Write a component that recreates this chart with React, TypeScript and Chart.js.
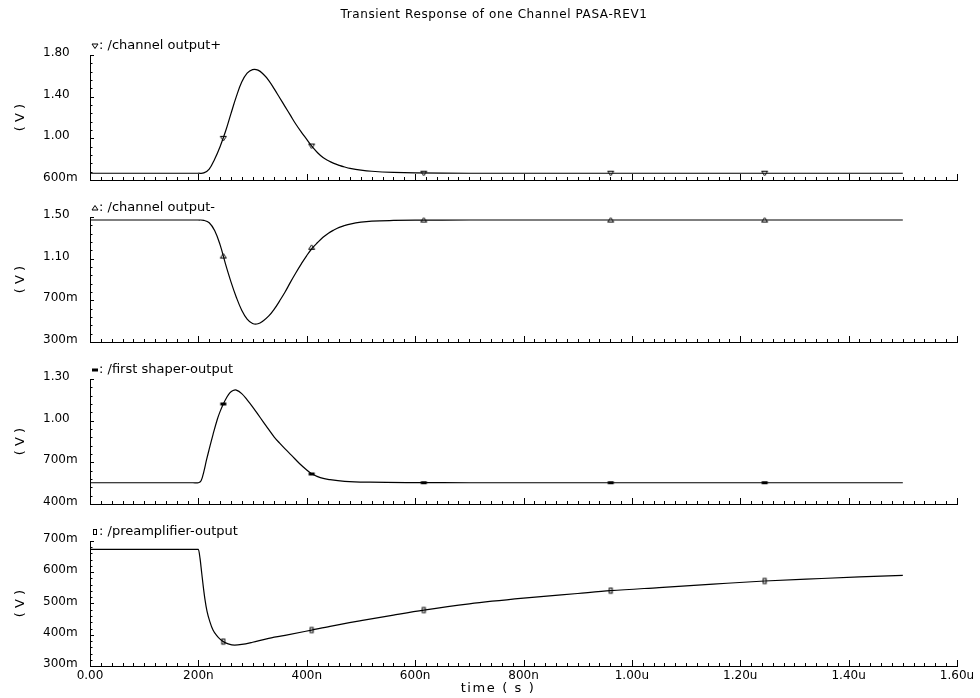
import React, { useEffect, useRef } from "react";
import { Chart, registerables } from "chart.js";

Chart.register(...registerables);

const FONT_FAMILY = "'DejaVu Sans', sans-serif";

const chartTitle = "Transient Response of one Channel PASA-REV1";
const xAxisTitle = "time ( s )";
const yAxisTitle = "( V )";

// x ticks (ns)
const xTicks = [0, 200, 400, 600, 800, 1000, 1200, 1400, 1600];

// marker times (ns)
const markerT = [246, 409, 616, 961, 1245];

// Panel 1: /channel output+
const outPlusT = [0, 100, 190, 200, 210, 220, 230, 240, 250, 260, 270, 280, 290, 300, 310, 320, 330, 340, 350, 360, 370, 380, 390, 400, 410, 420, 430, 440, 450, 460, 470, 480, 500, 520, 560, 600, 700, 1000, 1500];
const outPlusV = [0.665, 0.665, 0.665, 0.665, 0.668, 0.705, 0.8, 0.92, 1.065, 1.235, 1.4, 1.54, 1.625, 1.66, 1.655, 1.615, 1.555, 1.475, 1.39, 1.305, 1.22, 1.135, 1.06, 0.99, 0.92, 0.862, 0.816, 0.785, 0.76, 0.741, 0.725, 0.712, 0.695, 0.684, 0.673, 0.668, 0.665, 0.665, 0.665];
const outPlusM = [1.0, 0.926, 0.665, 0.665, 0.665];
const outPlusYTicks = [0.6, 1.0, 1.4, 1.8];

// Panel 2: /channel output-
const outMinusT = [0, 100, 190, 200, 210, 220, 230, 240, 250, 260, 270, 280, 290, 300, 310, 320, 330, 340, 350, 360, 370, 380, 390, 400, 410, 420, 430, 440, 450, 460, 470, 480, 500, 520, 560, 600, 700, 1000, 1500];
const outMinusV = [1.471, 1.471, 1.471, 1.471, 1.468, 1.445, 1.37, 1.235, 1.05, 0.88, 0.73, 0.605, 0.52, 0.478, 0.475, 0.505, 0.55, 0.615, 0.695, 0.78, 0.875, 0.965, 1.05, 1.13, 1.2, 1.255, 1.305, 1.345, 1.375, 1.4, 1.418, 1.432, 1.45, 1.46, 1.467, 1.47, 1.471, 1.471, 1.471];
const outMinusM = [1.125, 1.209, 1.471, 1.471, 1.471];
const outMinusYTicks = [0.3, 0.7, 1.1, 1.5];

// Panel 3: /first shaper-output
const shaperT = [0, 100, 190, 200, 205, 210, 215, 220, 227, 235, 240, 246, 252, 258, 264, 270, 280, 290, 300, 310, 320, 330, 340, 350, 360, 372, 387, 400, 409, 425, 443, 470, 517, 600, 700, 1000, 1500];
const shaperV = [0.553, 0.553, 0.553, 0.553, 0.567, 0.632, 0.717, 0.795, 0.9, 1.01, 1.065, 1.12, 1.165, 1.2, 1.217, 1.22, 1.195, 1.15, 1.1, 1.045, 0.99, 0.935, 0.882, 0.838, 0.797, 0.75, 0.69, 0.645, 0.618, 0.59, 0.575, 0.563, 0.557, 0.554, 0.553, 0.553, 0.553];
const shaperM = [1.12, 0.616, 0.553, 0.553, 0.553];
const shaperYTicks = [0.4, 0.7, 1.0, 1.3];

// Panel 4: /preamplifier-output
const preampT = [0, 100, 190, 197, 200, 203, 206, 209, 212, 216, 221, 227, 234, 240, 246, 255, 267, 280, 300, 326, 360, 409, 443, 500, 560, 616, 700, 800, 900, 961, 1050, 1150, 1245, 1350, 1420, 1500];
const preampV = [0.673, 0.673, 0.673, 0.673, 0.673, 0.645, 0.6, 0.555, 0.515, 0.475, 0.443, 0.415, 0.397, 0.386, 0.378, 0.371, 0.367, 0.369, 0.376, 0.387, 0.398, 0.415, 0.427, 0.445, 0.463, 0.479, 0.499, 0.517, 0.532, 0.541, 0.551, 0.562, 0.572, 0.58, 0.585, 0.59];
const preampM = [0.378, 0.415, 0.479, 0.541, 0.572];
const preampYTicks = [0.3, 0.4, 0.5, 0.6, 0.7];

type MarkerKind = "down" | "up" | "dash" | "bar";

const panelLabels = ["/channel output+", "/channel output-", "/first shaper-output", "/preamplifier-output"];
const panelKinds: MarkerKind[] = ["down", "up", "dash", "bar"];
const panelT = [outPlusT, outMinusT, shaperT, preampT];
const panelV = [outPlusV, outMinusV, shaperV, preampV];
const panelM = [outPlusM, outMinusM, shaperM, preampM];
const panelYTicks = [outPlusYTicks, outMinusYTicks, shaperYTicks, preampYTicks];

// layout constants
const W = 980;
const PANEL_STEP = 162;
const AREA_TOP = 55;
const AREA_BOTTOM = 180;
const AXIS_LEFT = 90;
const AXIS_RIGHT = 957;

function fmtY(v: number): string {
  if (v >= 0.999) return v.toFixed(2);
  return `${Math.round(v * 1000)}m`;
}
function fmtX(v: number): string {
  if (Math.abs(v) < 1e-9) return "0.00";
  if (v < 999) return `${Math.round(v)}n`;
  return `${(v / 1000).toFixed(2)}u`;
}

function drawSymbol(ctx: CanvasRenderingContext2D, kind: MarkerKind, x: number, y: number) {
  ctx.save();
  ctx.strokeStyle = "#000";
  ctx.fillStyle = "#000";
  ctx.lineWidth = 1;
  ctx.beginPath();
  if (kind === "down") {
    ctx.moveTo(x - 3, y - 2);
    ctx.lineTo(x + 3, y - 2);
    ctx.lineTo(x, y + 2.5);
    ctx.closePath();
    ctx.stroke();
  } else if (kind === "up") {
    ctx.moveTo(x - 3, y + 2);
    ctx.lineTo(x + 3, y + 2);
    ctx.lineTo(x, y - 2.5);
    ctx.closePath();
    ctx.stroke();
  } else if (kind === "dash") {
    ctx.fillRect(x - 3, y - 1.5, 6, 3);
  } else {
    ctx.strokeRect(x - 1.5, y - 2.5, 3, 5);
  }
  ctx.restore();
}

function makeMarkerImage(kind: MarkerKind): HTMLCanvasElement {
  const c = document.createElement("canvas");
  c.width = 9;
  c.height = 9;
  const ctx = c.getContext("2d")!;
  drawSymbol(ctx, kind, 4.5, 4.5);
  return c;
}

function PanelChart({ index }: { index: number }) {
  const ref = useRef<HTMLCanvasElement | null>(null);
  const isLast = index === 3;
  const H = isLast ? 212 : 195;
  const xAxisH = isLast ? 30 : 0;

  useEffect(() => {
    if (!ref.current) return;
    const t = panelT[index];
    const v = panelV[index];
    const m = panelM[index];
    const yTicks = panelYTicks[index];
    const kind = panelKinds[index];
    const font = { family: FONT_FAMILY, size: 12 };

    const decor = {
      id: "decor" + index,
      afterDraw(chart: any) {
        const { ctx, chartArea: a } = chart;
        const xs = chart.scales.x;
        const ys = chart.scales.y;
        ctx.save();
        ctx.strokeStyle = "#000";
        ctx.lineWidth = 1;
        ctx.beginPath();
        // x ticks, pointing up (inside)
        const xMinor = (xTicks[1] - xTicks[0]) / 10;
        const nX = Math.round((xTicks[xTicks.length - 1] - xTicks[0]) / xMinor);
        for (let k = 0; k <= nX; k++) {
          const val = xTicks[0] + k * xMinor;
          const px = Math.round(xs.getPixelForValue(val)) + 0.5;
          const len = k % 10 === 0 ? 6 : 3;
          ctx.moveTo(px, a.bottom);
          ctx.lineTo(px, a.bottom - len);
        }
        // y ticks, pointing right (inside)
        const yMinor = (yTicks[1] - yTicks[0]) / 5;
        const nY = Math.round((yTicks[yTicks.length - 1] - yTicks[0]) / yMinor);
        for (let k = 0; k <= nY; k++) {
          const val = yTicks[0] + k * yMinor;
          const py = Math.round(ys.getPixelForValue(val)) + 0.5;
          const len = k % 5 === 0 ? 4 : 2.5;
          ctx.moveTo(a.left, py);
          ctx.lineTo(a.left + len, py);
        }
        ctx.stroke();

        ctx.fillStyle = "#000";
        // y axis title
        ctx.save();
        ctx.font = `13px ${FONT_FAMILY}`;
        ctx.textAlign = "center";
        ctx.textBaseline = "middle";
        ctx.translate(21, (a.top + a.bottom) / 2);
        ctx.rotate(-Math.PI / 2);
        ctx.fillText(yAxisTitle, 0, 0);
        ctx.restore();

        // legend
        drawSymbol(ctx, kind, 95, a.top - 9);
        ctx.font = `13px ${FONT_FAMILY}`;
        ctx.textAlign = "left";
        ctx.textBaseline = "middle";
        ctx.fillText(": " + panelLabels[index], 99, a.top - 9);

        if (index === 0) {
          ctx.save();
          ctx.font = `12px ${FONT_FAMILY}`;
          (ctx as any).letterSpacing = "0.6px";
          ctx.textAlign = "center";
          ctx.fillText(chartTitle, 494, 15);
          ctx.restore();
        }
        if (isLast) {
          ctx.save();
          ctx.font = `13px ${FONT_FAMILY}`;
          (ctx as any).letterSpacing = "1.6px";
          ctx.textAlign = "center";
          ctx.fillText(xAxisTitle, 498, 203);
          ctx.restore();
        }
        ctx.restore();
      },
    };

    const chart = new Chart(ref.current, {
      type: "line",
      data: {
        datasets: [
          {
            data: t.map((x, k) => ({ x, y: v[k] })),
            borderColor: "#000",
            borderWidth: 1.2,
            pointRadius: 0,
            tension: 0.4,
            cubicInterpolationMode: isLast ? "monotone" : "default",
            fill: false,
          },
          {
            data: markerT.map((x, k) => ({ x, y: m[k] })),
            showLine: false,
            pointStyle: makeMarkerImage(kind),
            pointRadius: 4,
            borderColor: "#000",
            backgroundColor: "#fff",
          },
        ],
      } as any,
      options: {
        responsive: false,
        animation: false,
        events: [],
        layout: {
          padding: { left: AXIS_LEFT - 47, right: W - AXIS_RIGHT, top: AREA_TOP, bottom: H - AREA_BOTTOM - xAxisH },
        },
        plugins: {
          legend: { display: false },
          title: { display: false },
          tooltip: { enabled: false },
        },
        scales: {
          x: {
            type: "linear",
            min: xTicks[0],
            max: xTicks[xTicks.length - 1],
            afterBuildTicks: (s: any) => {
              s.ticks = xTicks.map((value) => ({ value }));
            },
            afterFit: (s: any) => {
              s.height = xAxisH;
            },
            ticks: {
              display: isLast,
              autoSkip: false,
              maxRotation: 0,
              padding: 3,
              color: "#000",
              font,
              callback: (val: any) => fmtX(Number(val)),
            },
            grid: { drawOnChartArea: false, drawTicks: false },
            border: { display: true, color: "#000", width: 1 },
          },
          y: {
            type: "linear",
            min: yTicks[0],
            max: yTicks[yTicks.length - 1],
            afterBuildTicks: (s: any) => {
              s.ticks = yTicks.map((value) => ({ value }));
            },
            afterFit: (s: any) => {
              s.width = 47;
            },
            ticks: {
              crossAlign: "far",
              labelOffset: -2,
              color: "#000",
              font,
              callback: (val: any) => fmtY(Number(val)),
            },
            grid: { drawOnChartArea: false, drawTicks: false },
            border: { display: true, color: "#000", width: 1 },
          },
        },
      } as any,
      plugins: [decor],
    });
    return () => chart.destroy();
  }, [index]);

  return (
    <canvas
      ref={ref}
      width={W}
      height={H}
      style={{ position: "absolute", left: 0, top: PANEL_STEP * index, width: W, height: H }}
    />
  );
}

export default function App() {
  return (
    <div style={{ position: "absolute", left: 0, top: 0, width: 980, height: 698, background: "#fff", overflow: "hidden" }}>
      {[0, 1, 2, 3].map((i) => (
        <PanelChart key={i} index={i} />
      ))}
    </div>
  );
}
